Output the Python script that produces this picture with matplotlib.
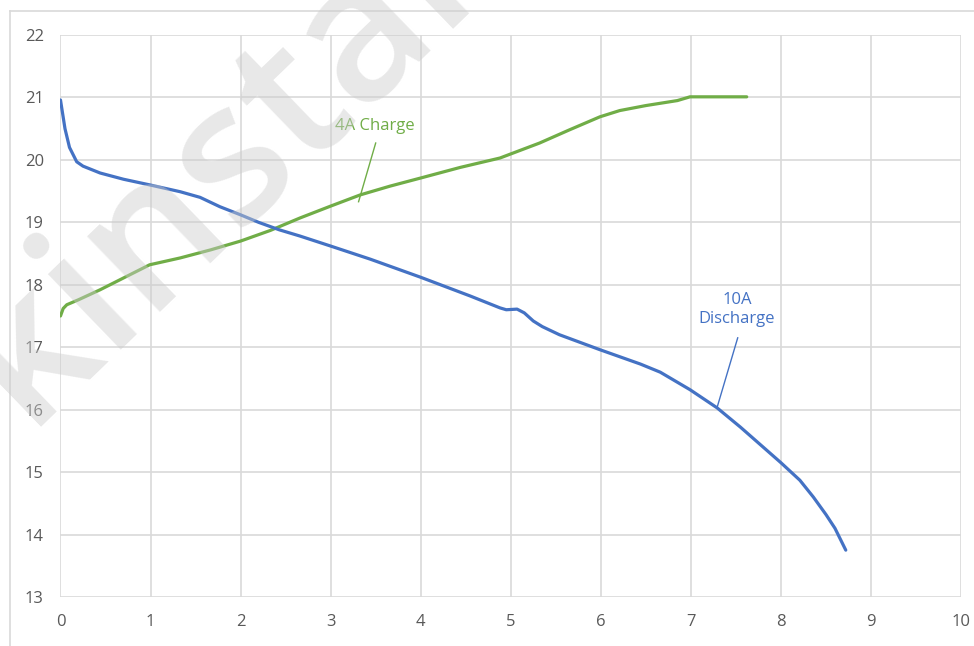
import matplotlib.pyplot as plt
from matplotlib.lines import Line2D

# ---------------- data ----------------
discharge_x = [0.0, 0.05, 0.1, 0.18, 0.25, 0.44, 0.7, 0.99, 1.33, 1.55, 1.77, 2.0,
               2.2, 2.43, 2.66, 3.0, 3.44, 4.0, 4.55, 4.88, 4.95, 5.07, 5.15, 5.25,
               5.35, 5.54, 5.99, 6.44, 6.66, 6.99, 7.29, 7.55, 8.0, 8.21, 8.36,
               8.5, 8.6, 8.72]
discharge_y = [20.96, 20.5, 20.2, 19.97, 19.9, 19.79, 19.69, 19.6, 19.49, 19.4,
               19.25, 19.12, 19.0, 18.88, 18.78, 18.62, 18.41, 18.12, 17.82,
               17.63, 17.6, 17.61, 17.55, 17.42, 17.33, 17.2, 16.96, 16.73, 16.6,
               16.32, 16.03, 15.72, 15.15, 14.87, 14.6, 14.32, 14.1, 13.75]

charge_x = [0.0, 0.03, 0.07, 0.2, 0.44, 0.77, 0.99, 1.33, 1.67, 2.0, 2.33, 2.66,
            3.0, 3.33, 3.66, 4.0, 4.44, 4.88, 5.32, 5.65, 5.99, 6.21, 6.5,
            6.85, 6.99, 7.3, 7.62]
charge_y = [17.5, 17.62, 17.68, 17.76, 17.92, 18.16, 18.32, 18.43, 18.56, 18.7,
            18.87, 19.07, 19.26, 19.44, 19.58, 19.71, 19.88, 20.03, 20.27, 20.48,
            20.69, 20.79, 20.87, 20.95, 21.01, 21.01, 21.01]

x_ticks = list(range(0, 11))
y_ticks = list(range(13, 23))

blue = '#4472C4'
green = '#70AD47'
grid_c = '#D9D9D9'
text_c = '#595959'

plt.rcParams['font.family'] = ['Open Sans', 'DejaVu Sans']

fig = plt.figure(figsize=(9.74, 6.46), dpi=100)
ax = fig.add_axes([0.0621, 0.0759, 0.9246, 0.8699])

# outer chart frame (cut off at right and bottom)
fig.add_artist(Line2D([10 / 974, 10 / 974], [0, 1 - 11 / 646], color=grid_c, lw=1.2))
fig.add_artist(Line2D([10 / 974, 1], [1 - 11 / 646, 1 - 11 / 646], color=grid_c, lw=1.2))

ax.plot(charge_x, charge_y, color=green, lw=2.3, solid_capstyle='round', zorder=3)
ax.plot(discharge_x, discharge_y, color=blue, lw=2.3, solid_capstyle='round', zorder=3)

ax.set_xlim(0, 10)
ax.set_ylim(13, 22)
ax.set_xticks(x_ticks)
ax.set_yticks(y_ticks)
ax.grid(True, color=grid_c, lw=1.2)
ax.set_axisbelow(True)
for s in ax.spines.values():
    s.set_visible(False)
ax.tick_params(length=0, labelsize=12, colors=text_c)
ax.tick_params(axis='y', pad=12)
ax.tick_params(axis='x', pad=12)

# data labels with leader lines
ax.text(3.49, 20.54, '4A Charge', color=green, fontsize=12, ha='center', va='center')
ax.plot([3.5, 3.31], [20.27, 19.33], color=green, lw=1, zorder=3)
ax.text(7.51, 17.6, '10A\nDischarge', color=blue, fontsize=12, ha='center', va='center',
        linespacing=1.25)
ax.plot([7.52, 7.29], [17.15, 16.03], color=blue, lw=1, zorder=3)

# watermark
fig.text(0.026, 0.34, 'kinstar', fontsize=140, fontweight='semibold', color='#cccccc',
         alpha=0.45, rotation=44, rotation_mode='anchor', ha='left', va='baseline',
         zorder=10)

fig.savefig('out.png', dpi=100)
